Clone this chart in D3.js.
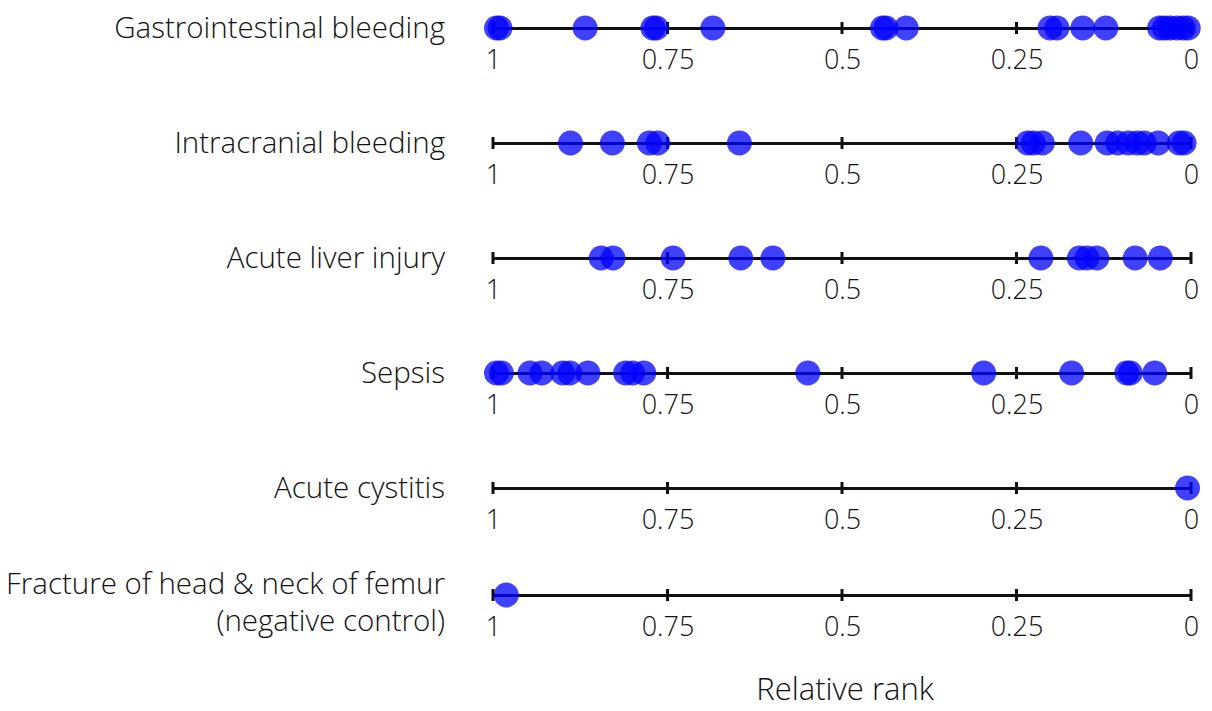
<!DOCTYPE html>
<html><head><meta charset="utf-8">
<script src="https://cdn.jsdelivr.net/npm/d3@7"></script>
<style>body{margin:0;background:#fff}svg{display:block}text{font-family:"Open Sans",Lato,sans-serif;font-weight:300;fill:#111}</style>
</head><body><svg id="c" width="1212" height="711"></svg>
<script>
const categories = ["Gastrointestinal bleeding","Intracranial bleeding","Acute liver injury","Sepsis","Acute cystitis","Fracture of head & neck of femur\n(negative control)"];
const gastro = [0.995,0.99,0.868,0.771,0.766,0.685,0.442,0.437,0.408,0.202,0.192,0.155,0.122,0.045,0.038,0.03,0.02,0.011,0.004];
const intracranial = [0.889,0.829,0.776,0.764,0.647,0.234,0.226,0.213,0.158,0.12,0.105,0.09,0.077,0.067,0.047,0.017,0.01];
const liver = [0.845,0.828,0.742,0.645,0.599,0.215,0.16,0.149,0.135,0.08,0.044];
const sepsis = [0.995,0.988,0.947,0.93,0.9,0.89,0.864,0.81,0.8,0.784,0.549,0.297,0.171,0.092,0.087,0.052];
const cystitis = [0.005];
const femur = [0.981];
const seriesValues = [gastro,intracranial,liver,sepsis,cystitis,femur];
const tickValues = [1,0.75,0.5,0.25,0];
const tickLabels = ["1","0.75","0.5","0.25","0"];
const xTitle = "Relative rank";

const svg = d3.select("#c");
const x = d3.scaleLinear().domain([1,0]).range([493,1191]);
const y = d3.scalePoint().domain(categories).range([28,603]);
const rowY = (c,i) => y(c) - (i===categories.length-1 ? 8 : 0);

categories.forEach((cat,i)=>{
  const yy = rowY(cat,i);
  const g = svg.append("g").attr("transform",`translate(0,${yy})`);
  const ax = d3.axisBottom(x).tickValues(tickValues).tickFormat((d,j)=>tickLabels[j]).tickSize(0).tickPadding(22);
  const ag = g.append("g").call(ax);
  ag.select(".domain").attr("stroke","#111").attr("stroke-width",3);
  ag.selectAll("text").style("font-size","27px").style("font-family","'Open Sans',Lato,sans-serif").style("font-weight",300).attr("fill","#111");
  g.selectAll("line.tk").data(tickValues).join("line").attr("class","tk")
    .attr("x1",d=>x(d)).attr("x2",d=>x(d)).attr("y1",-6).attr("y2",6)
    .attr("stroke","#111").attr("stroke-width",3);
  g.selectAll("circle").data(seriesValues[i]).join("circle")
    .attr("cx",d=>x(d)).attr("cy",0).attr("r",12.5)
    .attr("fill","#0000ff").attr("fill-opacity",0.75);
  const lines = cat.split("\n");
  const t = g.append("text").attr("x",445).attr("text-anchor","end").style("font-size","29.5px");
  const y0 = lines.length>1 ? -1 : 10;
  lines.forEach((l,k)=>t.append("tspan").attr("x",445).attr("y",y0+k*37).text(l));
});
svg.append("text").attr("x",845).attr("y",700).attr("text-anchor","middle").style("font-size","31px").text(xTitle);
</script></body></html>
